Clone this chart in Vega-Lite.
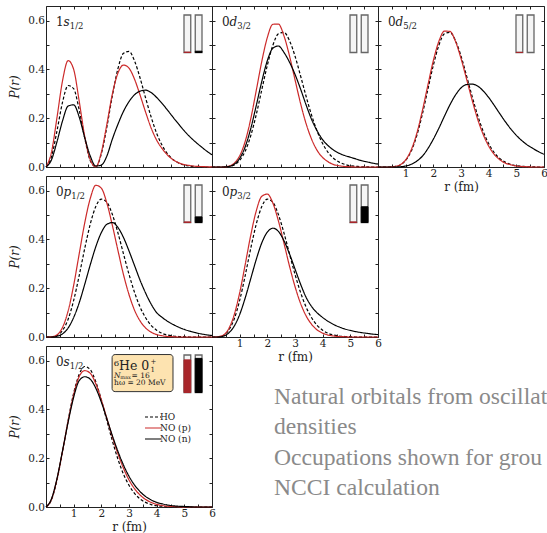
{
  "$schema": "https://vega.github.io/schema/vega-lite/v6.json",
  "padding": {"left": 8, "top": 5, "right": 0, "bottom": 0},
  "columns": 3,
  "spacing": {"row": 9, "column": 0},
  "bounds": "flush",
  "resolve": {
    "scale": {"color": "independent", "strokeDash": "independent"},
    "legend": {"color": "independent", "strokeDash": "independent"}
  },
  "config": {
    "view": {"stroke": "#222222", "strokeWidth": 1},
    "axis": {
      "domain": false, "grid": false, "tickSize": -3, "tickColor": "#222222", "tickWidth": 1,
      "labelFont": "DejaVu Serif", "labelFontSize": 10.5, "labelColor": "#222222", "labelPadding": 4.5,
      "labelFlush": false, "labelOverlap": false,
      "titleFont": "DejaVu Serif", "titleFontSize": 12, "titleFontWeight": "normal", "titleColor": "#222222"
    },
    "axisX": {"titlePadding": 2},
    "axisY": {"titlePadding": 6},
    "text": {"font": "DejaVu Serif", "color": "#222222", "baseline": "alphabetic"}
  },
  "datasets": {
    "orbitals": [
      {"o":"1s","r":0,"HO":0,"NOp":0,"NOn":0},
      {"o":"1s","r":0.2,"HO":0.043,"NOp":0.062,"NOn":0.030},
      {"o":"1s","r":0.4,"HO":0.150,"NOp":0.205,"NOn":0.105},
      {"o":"1s","r":0.6,"HO":0.267,"NOp":0.355,"NOn":0.190},
      {"o":"1s","r":0.8,"HO":0.334,"NOp":0.436,"NOn":0.250},
      {"o":"1s","r":1.0,"HO":0.321,"NOp":0.400,"NOn":0.255},
      {"o":"1s","r":1.2,"HO":0.234,"NOp":0.270,"NOn":0.205},
      {"o":"1s","r":1.4,"HO":0.118,"NOp":0.125,"NOn":0.120},
      {"o":"1s","r":1.6,"HO":0.026,"NOp":0.030,"NOn":0.045},
      {"o":"1s","r":1.8,"HO":0.001,"NOp":0.001,"NOn":0.004},
      {"o":"1s","r":2.0,"HO":0.054,"NOp":0.060,"NOn":0.008},
      {"o":"1s","r":2.2,"HO":0.164,"NOp":0.175,"NOn":0.045},
      {"o":"1s","r":2.4,"HO":0.293,"NOp":0.300,"NOn":0.115},
      {"o":"1s","r":2.6,"HO":0.403,"NOp":0.385,"NOn":0.175},
      {"o":"1s","r":2.8,"HO":0.466,"NOp":0.418,"NOn":0.228},
      {"o":"1s","r":3.0,"HO":0.474,"NOp":0.405,"NOn":0.268},
      {"o":"1s","r":3.2,"HO":0.435,"NOp":0.360,"NOn":0.296},
      {"o":"1s","r":3.4,"HO":0.365,"NOp":0.295,"NOn":0.311},
      {"o":"1s","r":3.6,"HO":0.283,"NOp":0.225,"NOn":0.315},
      {"o":"1s","r":3.8,"HO":0.205,"NOp":0.160,"NOn":0.305},
      {"o":"1s","r":4.0,"HO":0.138,"NOp":0.110,"NOn":0.285},
      {"o":"1s","r":4.2,"HO":0.088,"NOp":0.075,"NOn":0.260},
      {"o":"1s","r":4.4,"HO":0.053,"NOp":0.048,"NOn":0.232},
      {"o":"1s","r":4.6,"HO":0.030,"NOp":0.029,"NOn":0.203},
      {"o":"1s","r":4.8,"HO":0.016,"NOp":0.017,"NOn":0.175},
      {"o":"1s","r":5.0,"HO":0.008,"NOp":0.010,"NOn":0.148},
      {"o":"1s","r":5.2,"HO":0.004,"NOp":0.006,"NOn":0.124},
      {"o":"1s","r":5.4,"HO":0.002,"NOp":0.003,"NOn":0.103},
      {"o":"1s","r":5.6,"HO":0.001,"NOp":0.002,"NOn":0.084},
      {"o":"1s","r":5.8,"HO":0,"NOp":0.001,"NOn":0.066},
      {"o":"1s","r":6.0,"HO":0,"NOp":0,"NOn":0.050},

      {"o":"0d3","r":0,"HO":0,"NOp":0,"NOn":0},
      {"o":"0d3","r":0.2,"HO":0,"NOp":0,"NOn":0},
      {"o":"0d3","r":0.4,"HO":0,"NOp":0,"NOn":0},
      {"o":"0d3","r":0.6,"HO":0.002,"NOp":0.003,"NOn":0.002},
      {"o":"0d3","r":0.8,"HO":0.008,"NOp":0.015,"NOn":0.011},
      {"o":"0d3","r":1.0,"HO":0.027,"NOp":0.046,"NOn":0.035},
      {"o":"0d3","r":1.2,"HO":0.065,"NOp":0.105,"NOn":0.083},
      {"o":"0d3","r":1.4,"HO":0.128,"NOp":0.197,"NOn":0.157},
      {"o":"0d3","r":1.6,"HO":0.215,"NOp":0.314,"NOn":0.252},
      {"o":"0d3","r":1.8,"HO":0.317,"NOp":0.433,"NOn":0.351},
      {"o":"0d3","r":2.0,"HO":0.417,"NOp":0.531,"NOn":0.436},
      {"o":"0d3","r":2.2,"HO":0.499,"NOp":0.585,"NOn":0.487},
      {"o":"0d3","r":2.4,"HO":0.546,"NOp":0.586,"NOn":0.496},
      {"o":"0d3","r":2.6,"HO":0.552,"NOp":0.538,"NOn":0.470},
      {"o":"0d3","r":2.8,"HO":0.518,"NOp":0.456,"NOn":0.430},
      {"o":"0d3","r":3.0,"HO":0.455,"NOp":0.358,"NOn":0.380},
      {"o":"0d3","r":3.2,"HO":0.374,"NOp":0.261,"NOn":0.320},
      {"o":"0d3","r":3.4,"HO":0.290,"NOp":0.178,"NOn":0.255},
      {"o":"0d3","r":3.6,"HO":0.212,"NOp":0.114,"NOn":0.195},
      {"o":"0d3","r":3.8,"HO":0.147,"NOp":0.068,"NOn":0.148},
      {"o":"0d3","r":4.0,"HO":0.096,"NOp":0.039,"NOn":0.112},
      {"o":"0d3","r":4.2,"HO":0.059,"NOp":0.021,"NOn":0.087},
      {"o":"0d3","r":4.4,"HO":0.035,"NOp":0.010,"NOn":0.069},
      {"o":"0d3","r":4.6,"HO":0.020,"NOp":0.005,"NOn":0.056},
      {"o":"0d3","r":4.8,"HO":0.011,"NOp":0.002,"NOn":0.047},
      {"o":"0d3","r":5.0,"HO":0.005,"NOp":0.001,"NOn":0.040},
      {"o":"0d3","r":5.2,"HO":0.003,"NOp":0,"NOn":0.033},
      {"o":"0d3","r":5.4,"HO":0.001,"NOp":0,"NOn":0.026},
      {"o":"0d3","r":5.6,"HO":0.001,"NOp":0,"NOn":0.021},
      {"o":"0d3","r":5.8,"HO":0,"NOp":0,"NOn":0.016},
      {"o":"0d3","r":6.0,"HO":0,"NOp":0,"NOn":0.012},

      {"o":"0d5","r":0,"HO":0,"NOp":0,"NOn":0},
      {"o":"0d5","r":0.2,"HO":0,"NOp":0,"NOn":0},
      {"o":"0d5","r":0.4,"HO":0,"NOp":0,"NOn":0},
      {"o":"0d5","r":0.6,"HO":0.002,"NOp":0.002,"NOn":0},
      {"o":"0d5","r":0.8,"HO":0.008,"NOp":0.009,"NOn":0.001},
      {"o":"0d5","r":1.0,"HO":0.027,"NOp":0.029,"NOn":0.004},
      {"o":"0d5","r":1.2,"HO":0.065,"NOp":0.070,"NOn":0.011},
      {"o":"0d5","r":1.4,"HO":0.128,"NOp":0.137,"NOn":0.024},
      {"o":"0d5","r":1.6,"HO":0.215,"NOp":0.229,"NOn":0.044},
      {"o":"0d5","r":1.8,"HO":0.317,"NOp":0.334,"NOn":0.075},
      {"o":"0d5","r":2.0,"HO":0.417,"NOp":0.436,"NOn":0.114},
      {"o":"0d5","r":2.2,"HO":0.499,"NOp":0.515,"NOn":0.159},
      {"o":"0d5","r":2.4,"HO":0.546,"NOp":0.557,"NOn":0.208},
      {"o":"0d5","r":2.6,"HO":0.552,"NOp":0.556,"NOn":0.255},
      {"o":"0d5","r":2.8,"HO":0.518,"NOp":0.515,"NOn":0.295},
      {"o":"0d5","r":3.0,"HO":0.455,"NOp":0.445,"NOn":0.324},
      {"o":"0d5","r":3.2,"HO":0.374,"NOp":0.361,"NOn":0.338},
      {"o":"0d5","r":3.4,"HO":0.290,"NOp":0.275,"NOn":0.340},
      {"o":"0d5","r":3.6,"HO":0.212,"NOp":0.197,"NOn":0.332},
      {"o":"0d5","r":3.8,"HO":0.147,"NOp":0.134,"NOn":0.312},
      {"o":"0d5","r":4.0,"HO":0.096,"NOp":0.086,"NOn":0.285},
      {"o":"0d5","r":4.2,"HO":0.059,"NOp":0.052,"NOn":0.253},
      {"o":"0d5","r":4.4,"HO":0.035,"NOp":0.030,"NOn":0.219},
      {"o":"0d5","r":4.6,"HO":0.020,"NOp":0.016,"NOn":0.186},
      {"o":"0d5","r":4.8,"HO":0.011,"NOp":0.009,"NOn":0.156},
      {"o":"0d5","r":5.0,"HO":0.005,"NOp":0.004,"NOn":0.130},
      {"o":"0d5","r":5.2,"HO":0.003,"NOp":0.002,"NOn":0.108},
      {"o":"0d5","r":5.4,"HO":0.001,"NOp":0.001,"NOn":0.090},
      {"o":"0d5","r":5.6,"HO":0.001,"NOp":0,"NOn":0.076},
      {"o":"0d5","r":5.8,"HO":0,"NOp":0,"NOn":0.063},
      {"o":"0d5","r":6.0,"HO":0,"NOp":0,"NOn":0.052},

      {"o":"0p1","r":0,"HO":0,"NOp":0,"NOn":0},
      {"o":"0p1","r":0.2,"HO":0,"NOp":0.001,"NOn":0},
      {"o":"0p1","r":0.4,"HO":0.006,"NOp":0.009,"NOn":0.003},
      {"o":"0p1","r":0.6,"HO":0.027,"NOp":0.040,"NOn":0.013},
      {"o":"0p1","r":0.8,"HO":0.073,"NOp":0.107,"NOn":0.037},
      {"o":"0p1","r":1.0,"HO":0.150,"NOp":0.212,"NOn":0.080},
      {"o":"0p1","r":1.2,"HO":0.252,"NOp":0.341,"NOn":0.140},
      {"o":"0p1","r":1.4,"HO":0.363,"NOp":0.468,"NOn":0.216},
      {"o":"0p1","r":1.6,"HO":0.463,"NOp":0.568,"NOn":0.296},
      {"o":"0p1","r":1.8,"HO":0.535,"NOp":0.622,"NOn":0.370},
      {"o":"0p1","r":2.0,"HO":0.565,"NOp":0.610,"NOn":0.428},
      {"o":"0p1","r":2.2,"HO":0.552,"NOp":0.549,"NOn":0.462},
      {"o":"0p1","r":2.4,"HO":0.502,"NOp":0.457,"NOn":0.469},
      {"o":"0p1","r":2.6,"HO":0.427,"NOp":0.355,"NOn":0.449},
      {"o":"0p1","r":2.8,"HO":0.341,"NOp":0.256,"NOn":0.408},
      {"o":"0p1","r":3.0,"HO":0.257,"NOp":0.174,"NOn":0.353},
      {"o":"0p1","r":3.2,"HO":0.183,"NOp":0.110,"NOn":0.293},
      {"o":"0p1","r":3.4,"HO":0.123,"NOp":0.066,"NOn":0.233},
      {"o":"0p1","r":3.6,"HO":0.079,"NOp":0.037,"NOn":0.180},
      {"o":"0p1","r":3.8,"HO":0.048,"NOp":0.020,"NOn":0.135},
      {"o":"0p1","r":4.0,"HO":0.028,"NOp":0.010,"NOn":0.100},
      {"o":"0p1","r":4.2,"HO":0.015,"NOp":0.005,"NOn":0.080},
      {"o":"0p1","r":4.4,"HO":0.008,"NOp":0.002,"NOn":0.064},
      {"o":"0p1","r":4.6,"HO":0.004,"NOp":0.001,"NOn":0.051},
      {"o":"0p1","r":4.8,"HO":0.002,"NOp":0,"NOn":0.040},
      {"o":"0p1","r":5.0,"HO":0.001,"NOp":0,"NOn":0.031},
      {"o":"0p1","r":5.2,"HO":0,"NOp":0,"NOn":0.024},
      {"o":"0p1","r":5.4,"HO":0,"NOp":0,"NOn":0.018},
      {"o":"0p1","r":5.6,"HO":0,"NOp":0,"NOn":0.013},
      {"o":"0p1","r":5.8,"HO":0,"NOp":0,"NOn":0.009},
      {"o":"0p1","r":6.0,"HO":0,"NOp":0,"NOn":0.006},

      {"o":"0p3","r":0,"HO":0,"NOp":0,"NOn":0},
      {"o":"0p3","r":0.2,"HO":0,"NOp":0.001,"NOn":0},
      {"o":"0p3","r":0.4,"HO":0.006,"NOp":0.007,"NOn":0.003},
      {"o":"0p3","r":0.6,"HO":0.027,"NOp":0.033,"NOn":0.016},
      {"o":"0p3","r":0.8,"HO":0.073,"NOp":0.090,"NOn":0.044},
      {"o":"0p3","r":1.0,"HO":0.150,"NOp":0.181,"NOn":0.092},
      {"o":"0p3","r":1.2,"HO":0.252,"NOp":0.297,"NOn":0.160},
      {"o":"0p3","r":1.4,"HO":0.363,"NOp":0.417,"NOn":0.239},
      {"o":"0p3","r":1.6,"HO":0.463,"NOp":0.517,"NOn":0.318},
      {"o":"0p3","r":1.8,"HO":0.535,"NOp":0.577,"NOn":0.386},
      {"o":"0p3","r":2.0,"HO":0.565,"NOp":0.586,"NOn":0.430},
      {"o":"0p3","r":2.2,"HO":0.552,"NOp":0.549,"NOn":0.446},
      {"o":"0p3","r":2.4,"HO":0.502,"NOp":0.476,"NOn":0.433},
      {"o":"0p3","r":2.6,"HO":0.427,"NOp":0.385,"NOn":0.395},
      {"o":"0p3","r":2.8,"HO":0.341,"NOp":0.291,"NOn":0.341},
      {"o":"0p3","r":3.0,"HO":0.257,"NOp":0.207,"NOn":0.279},
      {"o":"0p3","r":3.2,"HO":0.183,"NOp":0.138,"NOn":0.217},
      {"o":"0p3","r":3.4,"HO":0.123,"NOp":0.087,"NOn":0.163},
      {"o":"0p3","r":3.6,"HO":0.079,"NOp":0.052,"NOn":0.125},
      {"o":"0p3","r":3.8,"HO":0.048,"NOp":0.029,"NOn":0.099},
      {"o":"0p3","r":4.0,"HO":0.028,"NOp":0.016,"NOn":0.080},
      {"o":"0p3","r":4.2,"HO":0.015,"NOp":0.008,"NOn":0.064},
      {"o":"0p3","r":4.4,"HO":0.008,"NOp":0.004,"NOn":0.051},
      {"o":"0p3","r":4.6,"HO":0.004,"NOp":0.002,"NOn":0.041},
      {"o":"0p3","r":4.8,"HO":0.002,"NOp":0.001,"NOn":0.033},
      {"o":"0p3","r":5.0,"HO":0.001,"NOp":0,"NOn":0.027},
      {"o":"0p3","r":5.2,"HO":0,"NOp":0,"NOn":0.022},
      {"o":"0p3","r":5.4,"HO":0,"NOp":0,"NOn":0.018},
      {"o":"0p3","r":5.6,"HO":0,"NOp":0,"NOn":0.015},
      {"o":"0p3","r":5.8,"HO":0,"NOp":0,"NOn":0.012},
      {"o":"0p3","r":6.0,"HO":0,"NOp":0,"NOn":0.010},

      {"o":"0s","r":0,"HO":0,"NOp":0,"NOn":0},
      {"o":"0s","r":0.2,"HO":0.030,"NOp":0.032,"NOn":0.034},
      {"o":"0s","r":0.4,"HO":0.112,"NOp":0.115,"NOn":0.118},
      {"o":"0s","r":0.6,"HO":0.229,"NOp":0.230,"NOn":0.232},
      {"o":"0s","r":0.8,"HO":0.355,"NOp":0.352,"NOn":0.348},
      {"o":"0s","r":1.0,"HO":0.467,"NOp":0.460,"NOn":0.450},
      {"o":"0s","r":1.2,"HO":0.544,"NOp":0.535,"NOn":0.518},
      {"o":"0s","r":1.4,"HO":0.576,"NOp":0.559,"NOn":0.534},
      {"o":"0s","r":1.6,"HO":0.563,"NOp":0.548,"NOn":0.524},
      {"o":"0s","r":1.8,"HO":0.513,"NOp":0.505,"NOn":0.487},
      {"o":"0s","r":2.0,"HO":0.439,"NOp":0.439,"NOn":0.430},
      {"o":"0s","r":2.2,"HO":0.354,"NOp":0.363,"NOn":0.362},
      {"o":"0s","r":2.4,"HO":0.271,"NOp":0.287,"NOn":0.292},
      {"o":"0s","r":2.6,"HO":0.196,"NOp":0.218,"NOn":0.228},
      {"o":"0s","r":2.8,"HO":0.135,"NOp":0.159,"NOn":0.172},
      {"o":"0s","r":3.0,"HO":0.089,"NOp":0.111,"NOn":0.126},
      {"o":"0s","r":3.2,"HO":0.056,"NOp":0.075,"NOn":0.090},
      {"o":"0s","r":3.4,"HO":0.033,"NOp":0.049,"NOn":0.063},
      {"o":"0s","r":3.6,"HO":0.019,"NOp":0.031,"NOn":0.043},
      {"o":"0s","r":3.8,"HO":0.010,"NOp":0.019,"NOn":0.029},
      {"o":"0s","r":4.0,"HO":0.005,"NOp":0.011,"NOn":0.019},
      {"o":"0s","r":4.2,"HO":0.003,"NOp":0.006,"NOn":0.013},
      {"o":"0s","r":4.4,"HO":0.001,"NOp":0.003,"NOn":0.008},
      {"o":"0s","r":4.6,"HO":0.001,"NOp":0.002,"NOn":0.005},
      {"o":"0s","r":4.8,"HO":0,"NOp":0.001,"NOn":0.003},
      {"o":"0s","r":5.0,"HO":0,"NOp":0,"NOn":0.002},
      {"o":"0s","r":5.2,"HO":0,"NOp":0,"NOn":0.001},
      {"o":"0s","r":5.4,"HO":0,"NOp":0,"NOn":0},
      {"o":"0s","r":5.6,"HO":0,"NOp":0,"NOn":0},
      {"o":"0s","r":5.8,"HO":0,"NOp":0,"NOn":0},
      {"o":"0s","r":6.0,"HO":0,"NOp":0,"NOn":0}
    ],
    "labels": [
      {"o":"1s","n":"1","l":"s","j":"1/2"},
      {"o":"0d3","n":"0","l":"d","j":"3/2"},
      {"o":"0d5","n":"0","l":"d","j":"5/2"},
      {"o":"0p1","n":"0","l":"p","j":"1/2"},
      {"o":"0p3","n":"0","l":"p","j":"3/2"},
      {"o":"0s","n":"0","l":"s","j":"1/2"}
    ],
    "occupancy": [
      {"o":"1s","s":"p","occ":0.01},{"o":"1s","s":"n","occ":0.035},
      {"o":"0d3","s":"p","occ":0},{"o":"0d3","s":"n","occ":0},
      {"o":"0d5","s":"p","occ":0.004},{"o":"0d5","s":"n","occ":0},
      {"o":"0p1","s":"p","occ":0.015},{"o":"0p1","s":"n","occ":0.15},
      {"o":"0p3","s":"p","occ":0.015},{"o":"0p3","s":"n","occ":0.42},
      {"o":"0s","s":"p","occ":0.87},{"o":"0s","s":"n","occ":0.91}
    ],
    "notes": [
      {"line":1,"text":"Natural orbitals from oscillator basis"},
      {"line":2,"text":"densities"},
      {"line":3,"text":"Occupations shown for ground state"},
      {"line":4,"text":"NCCI calculation"}
    ]
  },
  "concat": [
    {
      "width": 166, "height": 161,
      "resolve": {"scale": {"x": "independent", "y": "independent"}},
      "layer": [
        {
          "data": {"name": "orbitals"},
          "transform": [{"filter": "datum.o === '1s'"}, {"fold": ["HO", "NOp", "NOn"], "as": ["curve", "P"]}],
          "mark": {"type": "line", "interpolate": "monotone", "strokeWidth": 1.2},
          "encoding": {
            "x": {"field": "r", "type": "quantitative", "scale": {"domain": [0, 6], "nice": false},
                  "axis": {"orient": "bottom", "values": [0,0.5,1,1.5,2,2.5,3,3.5,4,4.5,5,5.5,6], "labels": false, "title": null}},
            "y": {"field": "P", "type": "quantitative", "scale": {"domain": [0, 0.66], "nice": false},
                  "axis": {"orient": "left", "values": [0,0.1,0.2,0.3,0.4,0.5,0.6], "labelExpr": "round(datum.value * 10) % 2 === 0 ? format(datum.value, '.1f') : ''", "title": "P(r)", "titleFontStyle": "italic"}},
            "color": {"field": "curve", "type": "nominal", "scale": {"domain": ["HO", "NOp", "NOn"], "range": ["#000000", "#cc2a2a", "#000000"]}, "legend": null},
            "strokeDash": {"field": "curve", "type": "nominal", "scale": {"domain": ["HO", "NOp", "NOn"], "range": [[3, 2], [1, 0], [1, 0]]}, "legend": null}
          }
        },
        {
          "data": {"name": "labels"},
          "transform": [{"filter": "datum.o === '1s'"}],
          "encoding": {
            "x": {"datum": 0.36, "type": "quantitative", "scale": {"domain": [0, 6], "nice": false},
                  "axis": {"orient": "top", "values": [0,0.5,1,1.5,2,2.5,3,3.5,4,4.5,5,5.5,6], "labels": false, "title": null}},
            "y": {"datum": 0.58, "type": "quantitative", "scale": {"domain": [0, 0.66], "nice": false},
                  "axis": {"orient": "right", "values": [0,0.1,0.2,0.3,0.4,0.5,0.6], "labels": false, "title": null}}
          },
          "layer": [
            {"mark": {"type": "text", "align": "left", "fontSize": 12}, "encoding": {"text": {"field": "n"}}},
            {"mark": {"type": "text", "align": "left", "fontSize": 12, "fontStyle": "italic", "dx": 7.6}, "encoding": {"text": {"field": "l"}}},
            {"mark": {"type": "text", "align": "left", "fontSize": 8.5, "dx": 13.8, "dy": 3}, "encoding": {"text": {"field": "j"}}}
          ]
        },
        {
          "data": {"name": "occupancy"},
          "transform": [{"filter": "datum.o === '1s'"}],
          "encoding": {
            "x": {"field": "s", "type": "nominal", "scale": {"type": "band", "domain": ["p", "n"], "range": [138, 156], "paddingInner": 0.4, "paddingOuter": 0}, "axis": null}
          },
          "layer": [
            {"mark": {"type": "bar", "fill": "#f5f5f5", "stroke": "#666666", "strokeWidth": 1.3},
             "encoding": {"y": {"datum": 1, "type": "quantitative", "scale": {"domain": [0, 1], "range": [46.5, 9]}, "axis": null}, "y2": {"datum": 0}}},
            {"transform": [{"filter": "datum.occ > 0"}], "mark": {"type": "bar", "strokeWidth": 1},
             "encoding": {"y": {"field": "occ", "type": "quantitative", "scale": {"domain": [0, 1], "range": [46.5, 9]}, "axis": null}, "y2": {"datum": 0},
               "fill": {"field": "s", "type": "nominal", "scale": {"domain": ["p", "n"], "range": ["#a8262b", "#000000"]}, "legend": null},
               "stroke": {"field": "s", "type": "nominal", "scale": {"domain": ["p", "n"], "range": ["#a8262b", "#000000"]}, "legend": null}}}
          ]
        }
      ]
    },
    {
      "width": 166, "height": 161,
      "resolve": {"scale": {"x": "independent", "y": "independent"}},
      "layer": [
        {
          "data": {"name": "orbitals"},
          "transform": [{"filter": "datum.o === '0d3'"}, {"fold": ["HO", "NOp", "NOn"], "as": ["curve", "P"]}],
          "mark": {"type": "line", "interpolate": "monotone", "strokeWidth": 1.2},
          "encoding": {
            "x": {"field": "r", "type": "quantitative", "scale": {"domain": [0, 6], "nice": false},
                  "axis": {"orient": "bottom", "values": [0,0.5,1,1.5,2,2.5,3,3.5,4,4.5,5,5.5,6], "labels": false, "title": null}},
            "y": {"field": "P", "type": "quantitative", "scale": {"domain": [0, 0.66], "nice": false},
                  "axis": {"orient": "left", "values": [0,0.1,0.2,0.3,0.4,0.5,0.6], "labels": false, "title": null}},
            "color": {"field": "curve", "type": "nominal", "scale": {"domain": ["HO", "NOp", "NOn"], "range": ["#000000", "#cc2a2a", "#000000"]}, "legend": null},
            "strokeDash": {"field": "curve", "type": "nominal", "scale": {"domain": ["HO", "NOp", "NOn"], "range": [[3, 2], [1, 0], [1, 0]]}, "legend": null}
          }
        },
        {
          "data": {"name": "labels"},
          "transform": [{"filter": "datum.o === '0d3'"}],
          "encoding": {
            "x": {"datum": 0.36, "type": "quantitative", "scale": {"domain": [0, 6], "nice": false},
                  "axis": {"orient": "top", "values": [0,0.5,1,1.5,2,2.5,3,3.5,4,4.5,5,5.5,6], "labels": false, "title": null}},
            "y": {"datum": 0.58, "type": "quantitative", "scale": {"domain": [0, 0.66], "nice": false},
                  "axis": {"orient": "right", "values": [0,0.1,0.2,0.3,0.4,0.5,0.6], "labels": false, "title": null}}
          },
          "layer": [
            {"mark": {"type": "text", "align": "left", "fontSize": 12}, "encoding": {"text": {"field": "n"}}},
            {"mark": {"type": "text", "align": "left", "fontSize": 12, "fontStyle": "italic", "dx": 7.6}, "encoding": {"text": {"field": "l"}}},
            {"mark": {"type": "text", "align": "left", "fontSize": 8.5, "dx": 15.3, "dy": 3}, "encoding": {"text": {"field": "j"}}}
          ]
        },
        {
          "data": {"name": "occupancy"},
          "transform": [{"filter": "datum.o === '0d3'"}],
          "encoding": {
            "x": {"field": "s", "type": "nominal", "scale": {"type": "band", "domain": ["p", "n"], "range": [138, 156], "paddingInner": 0.4, "paddingOuter": 0}, "axis": null}
          },
          "layer": [
            {"mark": {"type": "bar", "fill": "#f5f5f5", "stroke": "#666666", "strokeWidth": 1.3},
             "encoding": {"y": {"datum": 1, "type": "quantitative", "scale": {"domain": [0, 1], "range": [46.5, 9]}, "axis": null}, "y2": {"datum": 0}}},
            {"transform": [{"filter": "datum.occ > 0"}], "mark": {"type": "bar", "strokeWidth": 1},
             "encoding": {"y": {"field": "occ", "type": "quantitative", "scale": {"domain": [0, 1], "range": [46.5, 9]}, "axis": null}, "y2": {"datum": 0},
               "fill": {"field": "s", "type": "nominal", "scale": {"domain": ["p", "n"], "range": ["#a8262b", "#000000"]}, "legend": null},
               "stroke": {"field": "s", "type": "nominal", "scale": {"domain": ["p", "n"], "range": ["#a8262b", "#000000"]}, "legend": null}}}
          ]
        }
      ]
    },
    {
      "width": 166, "height": 161,
      "resolve": {"scale": {"x": "independent", "y": "independent"}},
      "layer": [
        {
          "data": {"name": "orbitals"},
          "transform": [{"filter": "datum.o === '0d5'"}, {"fold": ["HO", "NOp", "NOn"], "as": ["curve", "P"]}],
          "mark": {"type": "line", "interpolate": "monotone", "strokeWidth": 1.2},
          "encoding": {
            "x": {"field": "r", "type": "quantitative", "scale": {"domain": [0, 6], "nice": false},
                  "axis": {"orient": "bottom", "values": [0,0.5,1,1.5,2,2.5,3,3.5,4,4.5,5,5.5,6], "labelExpr": "datum.value % 1 === 0 && datum.value > 0 ? format(datum.value, 'd') : ''", "title": "r (fm)"}},
            "y": {"field": "P", "type": "quantitative", "scale": {"domain": [0, 0.66], "nice": false},
                  "axis": {"orient": "left", "values": [0,0.1,0.2,0.3,0.4,0.5,0.6], "labels": false, "title": null}},
            "color": {"field": "curve", "type": "nominal", "scale": {"domain": ["HO", "NOp", "NOn"], "range": ["#000000", "#cc2a2a", "#000000"]}, "legend": null},
            "strokeDash": {"field": "curve", "type": "nominal", "scale": {"domain": ["HO", "NOp", "NOn"], "range": [[3, 2], [1, 0], [1, 0]]}, "legend": null}
          }
        },
        {
          "data": {"name": "labels"},
          "transform": [{"filter": "datum.o === '0d5'"}],
          "encoding": {
            "x": {"datum": 0.36, "type": "quantitative", "scale": {"domain": [0, 6], "nice": false},
                  "axis": {"orient": "top", "values": [0,0.5,1,1.5,2,2.5,3,3.5,4,4.5,5,5.5,6], "labels": false, "title": null}},
            "y": {"datum": 0.58, "type": "quantitative", "scale": {"domain": [0, 0.66], "nice": false},
                  "axis": {"orient": "right", "values": [0,0.1,0.2,0.3,0.4,0.5,0.6], "labels": false, "title": null}}
          },
          "layer": [
            {"mark": {"type": "text", "align": "left", "fontSize": 12}, "encoding": {"text": {"field": "n"}}},
            {"mark": {"type": "text", "align": "left", "fontSize": 12, "fontStyle": "italic", "dx": 7.6}, "encoding": {"text": {"field": "l"}}},
            {"mark": {"type": "text", "align": "left", "fontSize": 8.5, "dx": 15.3, "dy": 3}, "encoding": {"text": {"field": "j"}}}
          ]
        },
        {
          "data": {"name": "occupancy"},
          "transform": [{"filter": "datum.o === '0d5'"}],
          "encoding": {
            "x": {"field": "s", "type": "nominal", "scale": {"type": "band", "domain": ["p", "n"], "range": [138, 156], "paddingInner": 0.4, "paddingOuter": 0}, "axis": null}
          },
          "layer": [
            {"mark": {"type": "bar", "fill": "#f5f5f5", "stroke": "#666666", "strokeWidth": 1.3},
             "encoding": {"y": {"datum": 1, "type": "quantitative", "scale": {"domain": [0, 1], "range": [46.5, 9]}, "axis": null}, "y2": {"datum": 0}}},
            {"transform": [{"filter": "datum.occ > 0"}], "mark": {"type": "bar", "strokeWidth": 1},
             "encoding": {"y": {"field": "occ", "type": "quantitative", "scale": {"domain": [0, 1], "range": [46.5, 9]}, "axis": null}, "y2": {"datum": 0},
               "fill": {"field": "s", "type": "nominal", "scale": {"domain": ["p", "n"], "range": ["#a8262b", "#000000"]}, "legend": null},
               "stroke": {"field": "s", "type": "nominal", "scale": {"domain": ["p", "n"], "range": ["#a8262b", "#000000"]}, "legend": null}}}
          ]
        }
      ]
    },
    {
      "width": 166, "height": 161,
      "resolve": {"scale": {"x": "independent", "y": "independent"}},
      "layer": [
        {
          "data": {"name": "orbitals"},
          "transform": [{"filter": "datum.o === '0p1'"}, {"fold": ["HO", "NOp", "NOn"], "as": ["curve", "P"]}],
          "mark": {"type": "line", "interpolate": "monotone", "strokeWidth": 1.2},
          "encoding": {
            "x": {"field": "r", "type": "quantitative", "scale": {"domain": [0, 6], "nice": false},
                  "axis": {"orient": "bottom", "values": [0,0.5,1,1.5,2,2.5,3,3.5,4,4.5,5,5.5,6], "labels": false, "title": null}},
            "y": {"field": "P", "type": "quantitative", "scale": {"domain": [0, 0.66], "nice": false},
                  "axis": {"orient": "left", "values": [0,0.1,0.2,0.3,0.4,0.5,0.6], "labelExpr": "round(datum.value * 10) % 2 === 0 ? format(datum.value, '.1f') : ''", "title": "P(r)", "titleFontStyle": "italic"}},
            "color": {"field": "curve", "type": "nominal", "scale": {"domain": ["HO", "NOp", "NOn"], "range": ["#000000", "#cc2a2a", "#000000"]}, "legend": null},
            "strokeDash": {"field": "curve", "type": "nominal", "scale": {"domain": ["HO", "NOp", "NOn"], "range": [[3, 2], [1, 0], [1, 0]]}, "legend": null}
          }
        },
        {
          "data": {"name": "labels"},
          "transform": [{"filter": "datum.o === '0p1'"}],
          "encoding": {
            "x": {"datum": 0.36, "type": "quantitative", "scale": {"domain": [0, 6], "nice": false},
                  "axis": {"orient": "top", "values": [0,0.5,1,1.5,2,2.5,3,3.5,4,4.5,5,5.5,6], "labels": false, "title": null}},
            "y": {"datum": 0.58, "type": "quantitative", "scale": {"domain": [0, 0.66], "nice": false},
                  "axis": {"orient": "right", "values": [0,0.1,0.2,0.3,0.4,0.5,0.6], "labels": false, "title": null}}
          },
          "layer": [
            {"mark": {"type": "text", "align": "left", "fontSize": 12}, "encoding": {"text": {"field": "n"}}},
            {"mark": {"type": "text", "align": "left", "fontSize": 12, "fontStyle": "italic", "dx": 7.6}, "encoding": {"text": {"field": "l"}}},
            {"mark": {"type": "text", "align": "left", "fontSize": 8.5, "dx": 15.3, "dy": 3}, "encoding": {"text": {"field": "j"}}}
          ]
        },
        {
          "data": {"name": "occupancy"},
          "transform": [{"filter": "datum.o === '0p1'"}],
          "encoding": {
            "x": {"field": "s", "type": "nominal", "scale": {"type": "band", "domain": ["p", "n"], "range": [138, 156], "paddingInner": 0.4, "paddingOuter": 0}, "axis": null}
          },
          "layer": [
            {"mark": {"type": "bar", "fill": "#f5f5f5", "stroke": "#666666", "strokeWidth": 1.3},
             "encoding": {"y": {"datum": 1, "type": "quantitative", "scale": {"domain": [0, 1], "range": [46.5, 9]}, "axis": null}, "y2": {"datum": 0}}},
            {"transform": [{"filter": "datum.occ > 0"}], "mark": {"type": "bar", "strokeWidth": 1},
             "encoding": {"y": {"field": "occ", "type": "quantitative", "scale": {"domain": [0, 1], "range": [46.5, 9]}, "axis": null}, "y2": {"datum": 0},
               "fill": {"field": "s", "type": "nominal", "scale": {"domain": ["p", "n"], "range": ["#a8262b", "#000000"]}, "legend": null},
               "stroke": {"field": "s", "type": "nominal", "scale": {"domain": ["p", "n"], "range": ["#a8262b", "#000000"]}, "legend": null}}}
          ]
        }
      ]
    },
    {
      "width": 166, "height": 161,
      "resolve": {"scale": {"x": "independent", "y": "independent"}},
      "layer": [
        {
          "data": {"name": "orbitals"},
          "transform": [{"filter": "datum.o === '0p3'"}, {"fold": ["HO", "NOp", "NOn"], "as": ["curve", "P"]}],
          "mark": {"type": "line", "interpolate": "monotone", "strokeWidth": 1.2},
          "encoding": {
            "x": {"field": "r", "type": "quantitative", "scale": {"domain": [0, 6], "nice": false},
                  "axis": {"orient": "bottom", "values": [0,0.5,1,1.5,2,2.5,3,3.5,4,4.5,5,5.5,6], "labelExpr": "datum.value % 1 === 0 && datum.value > 0 ? format(datum.value, 'd') : ''", "title": "r (fm)"}},
            "y": {"field": "P", "type": "quantitative", "scale": {"domain": [0, 0.66], "nice": false},
                  "axis": {"orient": "left", "values": [0,0.1,0.2,0.3,0.4,0.5,0.6], "labels": false, "title": null}},
            "color": {"field": "curve", "type": "nominal", "scale": {"domain": ["HO", "NOp", "NOn"], "range": ["#000000", "#cc2a2a", "#000000"]}, "legend": null},
            "strokeDash": {"field": "curve", "type": "nominal", "scale": {"domain": ["HO", "NOp", "NOn"], "range": [[3, 2], [1, 0], [1, 0]]}, "legend": null}
          }
        },
        {
          "data": {"name": "labels"},
          "transform": [{"filter": "datum.o === '0p3'"}],
          "encoding": {
            "x": {"datum": 0.36, "type": "quantitative", "scale": {"domain": [0, 6], "nice": false},
                  "axis": {"orient": "top", "values": [0,0.5,1,1.5,2,2.5,3,3.5,4,4.5,5,5.5,6], "labels": false, "title": null}},
            "y": {"datum": 0.58, "type": "quantitative", "scale": {"domain": [0, 0.66], "nice": false},
                  "axis": {"orient": "right", "values": [0,0.1,0.2,0.3,0.4,0.5,0.6], "labels": false, "title": null}}
          },
          "layer": [
            {"mark": {"type": "text", "align": "left", "fontSize": 12}, "encoding": {"text": {"field": "n"}}},
            {"mark": {"type": "text", "align": "left", "fontSize": 12, "fontStyle": "italic", "dx": 7.6}, "encoding": {"text": {"field": "l"}}},
            {"mark": {"type": "text", "align": "left", "fontSize": 8.5, "dx": 15.3, "dy": 3}, "encoding": {"text": {"field": "j"}}}
          ]
        },
        {
          "data": {"name": "occupancy"},
          "transform": [{"filter": "datum.o === '0p3'"}],
          "encoding": {
            "x": {"field": "s", "type": "nominal", "scale": {"type": "band", "domain": ["p", "n"], "range": [138, 156], "paddingInner": 0.4, "paddingOuter": 0}, "axis": null}
          },
          "layer": [
            {"mark": {"type": "bar", "fill": "#f5f5f5", "stroke": "#666666", "strokeWidth": 1.3},
             "encoding": {"y": {"datum": 1, "type": "quantitative", "scale": {"domain": [0, 1], "range": [46.5, 9]}, "axis": null}, "y2": {"datum": 0}}},
            {"transform": [{"filter": "datum.occ > 0"}], "mark": {"type": "bar", "strokeWidth": 1},
             "encoding": {"y": {"field": "occ", "type": "quantitative", "scale": {"domain": [0, 1], "range": [46.5, 9]}, "axis": null}, "y2": {"datum": 0},
               "fill": {"field": "s", "type": "nominal", "scale": {"domain": ["p", "n"], "range": ["#a8262b", "#000000"]}, "legend": null},
               "stroke": {"field": "s", "type": "nominal", "scale": {"domain": ["p", "n"], "range": ["#a8262b", "#000000"]}, "legend": null}}}
          ]
        }
      ]
    },
    {
      "width": 166, "height": 161,
      "view": {"stroke": null},
      "data": {"values": [{}]},
      "mark": {"type": "text", "text": ""}
    },
    {
      "width": 166, "height": 161,
      "resolve": {"scale": {"x": "independent", "y": "independent"}},
      "layer": [
        {
          "data": {"name": "orbitals"},
          "transform": [{"filter": "datum.o === '0s'"}, {"fold": ["HO", "NOp", "NOn"], "as": ["curve", "P"]}],
          "mark": {"type": "line", "interpolate": "monotone", "strokeWidth": 1.2},
          "encoding": {
            "x": {"field": "r", "type": "quantitative", "scale": {"domain": [0, 6], "nice": false},
                  "axis": {"orient": "bottom", "values": [0,0.5,1,1.5,2,2.5,3,3.5,4,4.5,5,5.5,6], "labelExpr": "datum.value % 1 === 0 && datum.value > 0 ? format(datum.value, 'd') : ''", "title": "r (fm)"}},
            "y": {"field": "P", "type": "quantitative", "scale": {"domain": [0, 0.66], "nice": false},
                  "axis": {"orient": "left", "values": [0,0.1,0.2,0.3,0.4,0.5,0.6], "labelExpr": "round(datum.value * 10) % 2 === 0 ? format(datum.value, '.1f') : ''", "title": "P(r)", "titleFontStyle": "italic"}},
            "color": {"field": "curve", "type": "nominal", "scale": {"domain": ["HO", "NOp", "NOn"], "range": ["#000000", "#cc2a2a", "#000000"]},
                      "legend": {"orient": "none", "legendX": 101, "legendY": 65, "title": null, "padding": 0, "rowPadding": 0, "symbolType": "M-1.6,0H1.6", "symbolSize": 100, "symbolStrokeWidth": 1.2, "labelFont": "DejaVu Serif", "labelFontSize": 9, "labelColor": "#222222", "labelOffset": 1, "labelExpr": "datum.label === 'NOp' ? 'NO (p)' : datum.label === 'NOn' ? 'NO (n)' : datum.label"}},
            "strokeDash": {"field": "curve", "type": "nominal", "scale": {"domain": ["HO", "NOp", "NOn"], "range": [[3, 2], [1, 0], [1, 0]]},
                      "legend": {"orient": "none", "legendX": 101, "legendY": 65, "title": null, "padding": 0, "rowPadding": 0, "symbolType": "M-1.6,0H1.6", "symbolSize": 100, "symbolStrokeWidth": 1.2, "labelFont": "DejaVu Serif", "labelFontSize": 9, "labelColor": "#222222", "labelOffset": 1, "labelExpr": "datum.label === 'NOp' ? 'NO (p)' : datum.label === 'NOn' ? 'NO (n)' : datum.label"}}
          }
        },
        {
          "data": {"name": "labels"},
          "transform": [{"filter": "datum.o === '0s'"}],
          "encoding": {
            "x": {"datum": 0.36, "type": "quantitative", "scale": {"domain": [0, 6], "nice": false},
                  "axis": {"orient": "top", "values": [0,0.5,1,1.5,2,2.5,3,3.5,4,4.5,5,5.5,6], "labels": false, "title": null}},
            "y": {"datum": 0.58, "type": "quantitative", "scale": {"domain": [0, 0.66], "nice": false},
                  "axis": {"orient": "right", "values": [0,0.1,0.2,0.3,0.4,0.5,0.6], "labels": false, "title": null}}
          },
          "layer": [
            {"mark": {"type": "text", "align": "left", "fontSize": 12}, "encoding": {"text": {"field": "n"}}},
            {"mark": {"type": "text", "align": "left", "fontSize": 12, "fontStyle": "italic", "dx": 7.6}, "encoding": {"text": {"field": "l"}}},
            {"mark": {"type": "text", "align": "left", "fontSize": 8.5, "dx": 13.8, "dy": 3}, "encoding": {"text": {"field": "j"}}}
          ]
        },
        {
          "data": {"values": [{}]},
          "encoding": {
            "x": {"datum": 2.46, "type": "quantitative", "scale": {"domain": [0, 6], "nice": false}, "axis": null},
            "y": {"datum": 0.563, "type": "quantitative", "scale": {"domain": [0, 0.66], "nice": false}, "axis": null}
          },
          "layer": [
            {"mark": {"type": "rect", "fill": "#fde3b0", "stroke": "#333333", "strokeWidth": 1, "cornerRadius": 3},
             "encoding": {
               "x": {"datum": 2.39, "type": "quantitative", "scale": {"domain": [0, 6], "nice": false}, "axis": null},
               "x2": {"datum": 4.59},
               "y": {"datum": 0.625, "type": "quantitative", "scale": {"domain": [0, 0.66], "nice": false}, "axis": null},
               "y2": {"datum": 0.473}}},
            {"mark": {"type": "text", "align": "left", "fontSize": 12.5, "text": "⁶He 0"}},
            {"mark": {"type": "text", "align": "left", "fontSize": 7, "text": "+", "dx": 36.5, "dy": -5.5}},
            {"mark": {"type": "text", "align": "left", "fontSize": 7, "text": "1", "dx": 36.5, "dy": 2}},
            {"mark": {"type": "text", "align": "left", "fontSize": 7.5, "fontStyle": "italic", "text": "N", "dy": 8}},
            {"mark": {"type": "text", "align": "left", "fontSize": 5, "text": "max", "dx": 6.2, "dy": 9.5}},
            {"mark": {"type": "text", "align": "left", "fontSize": 7.5, "text": "= 16", "dx": 17.5, "dy": 8}},
            {"mark": {"type": "text", "align": "left", "fontSize": 7.5, "text": "ħω = 20 MeV", "dy": 15.5}}
          ]
        },
        {
          "data": {"name": "occupancy"},
          "transform": [{"filter": "datum.o === '0s'"}],
          "encoding": {
            "x": {"field": "s", "type": "nominal", "scale": {"type": "band", "domain": ["p", "n"], "range": [138, 156], "paddingInner": 0.4, "paddingOuter": 0}, "axis": null}
          },
          "layer": [
            {"mark": {"type": "bar", "fill": "#f5f5f5", "stroke": "#666666", "strokeWidth": 1.3},
             "encoding": {"y": {"datum": 1, "type": "quantitative", "scale": {"domain": [0, 1], "range": [46.5, 9]}, "axis": null}, "y2": {"datum": 0}}},
            {"transform": [{"filter": "datum.occ > 0"}], "mark": {"type": "bar", "strokeWidth": 1},
             "encoding": {"y": {"field": "occ", "type": "quantitative", "scale": {"domain": [0, 1], "range": [46.5, 9]}, "axis": null}, "y2": {"datum": 0},
               "fill": {"field": "s", "type": "nominal", "scale": {"domain": ["p", "n"], "range": ["#a8262b", "#000000"]}, "legend": null},
               "stroke": {"field": "s", "type": "nominal", "scale": {"domain": ["p", "n"], "range": ["#a8262b", "#000000"]}, "legend": null}}}
          ]
        }
      ]
    },
    {
      "width": 166, "height": 161,
      "view": {"stroke": null},
      "data": {"name": "notes"},
      "mark": {"type": "text", "align": "left", "font": "Liberation Serif", "fontSize": 23.6, "color": "#8a8a8a", "limit": 274, "ellipsis": "\u200b", "dx": -21},
      "encoding": {
        "y": {"field": "line", "type": "ordinal", "scale": {"type": "point", "range": [58, 149], "padding": 0}, "axis": null},
        "text": {"field": "text"}
      }
    }
  ]
}
